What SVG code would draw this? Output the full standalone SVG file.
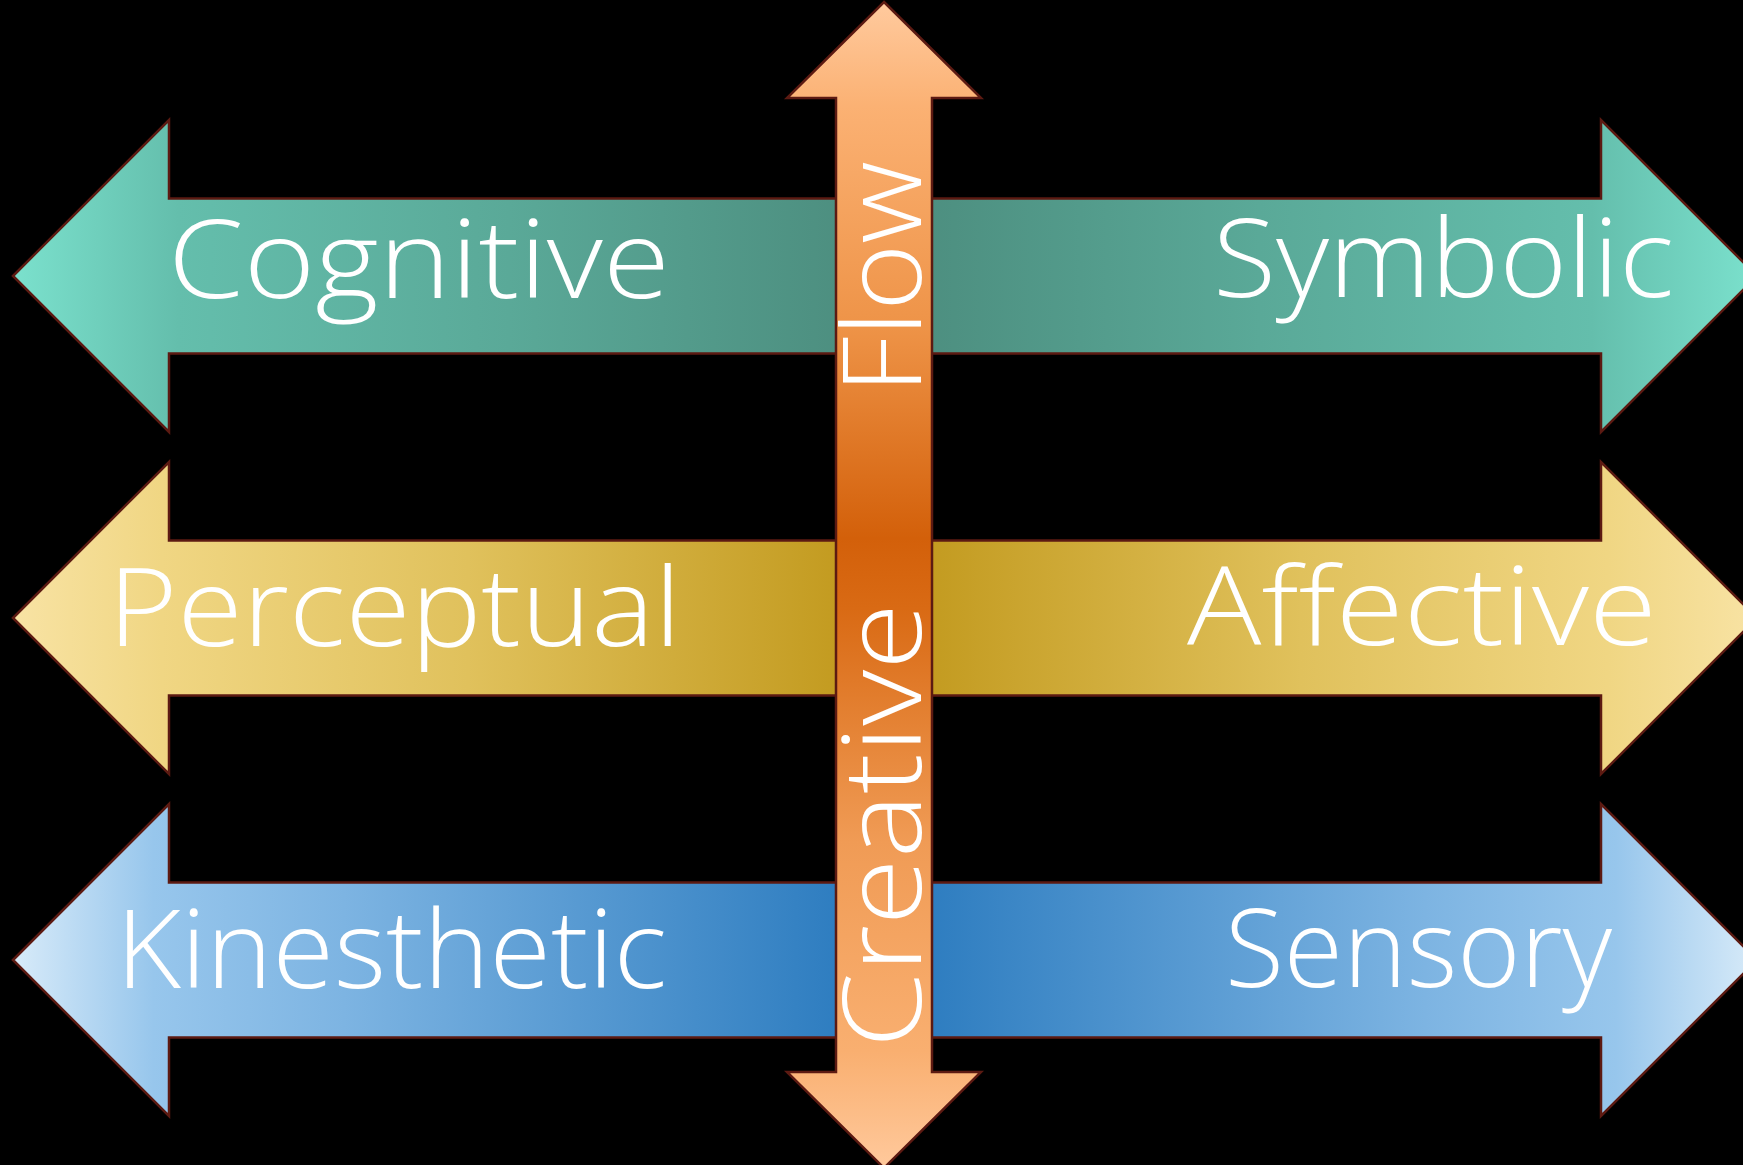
<svg xmlns="http://www.w3.org/2000/svg" width="1743" height="1165" viewBox="0 0 1743 1165">
  <defs>
    <!-- left-pointing arrows: light at the tip, deep toward the centre -->
    <linearGradient id="tealL" gradientUnits="userSpaceOnUse" x1="13" y1="0" x2="840" y2="0">
      <stop offset="0" stop-color="#7BE1CD"/>
      <stop offset="0.2" stop-color="#64BEAC"/>
      <stop offset="0.6" stop-color="#5AA998"/>
      <stop offset="1" stop-color="#4D8F80"/>
    </linearGradient>
    <linearGradient id="tealR" gradientUnits="userSpaceOnUse" x1="1757" y1="0" x2="928" y2="0">
      <stop offset="0" stop-color="#7BE1CD"/>
      <stop offset="0.2" stop-color="#64BEAC"/>
      <stop offset="0.6" stop-color="#5AA998"/>
      <stop offset="1" stop-color="#4D8F80"/>
    </linearGradient>
    <linearGradient id="goldL" gradientUnits="userSpaceOnUse" x1="13" y1="0" x2="840" y2="0">
      <stop offset="0" stop-color="#F8E3A4"/>
      <stop offset="0.18" stop-color="#F0D683"/>
      <stop offset="0.55" stop-color="#E0C15C"/>
      <stop offset="1" stop-color="#C39B20"/>
    </linearGradient>
    <linearGradient id="goldR" gradientUnits="userSpaceOnUse" x1="1757" y1="0" x2="928" y2="0">
      <stop offset="0" stop-color="#F8E3A4"/>
      <stop offset="0.18" stop-color="#F0D683"/>
      <stop offset="0.55" stop-color="#E0C15C"/>
      <stop offset="1" stop-color="#C39B20"/>
    </linearGradient>
    <linearGradient id="blueL" gradientUnits="userSpaceOnUse" x1="13" y1="0" x2="840" y2="0">
      <stop offset="0" stop-color="#D8EBF9"/>
      <stop offset="0.17" stop-color="#97C6EC"/>
      <stop offset="0.4" stop-color="#7DB4E2"/>
      <stop offset="1" stop-color="#2E7DC0"/>
    </linearGradient>
    <linearGradient id="blueR" gradientUnits="userSpaceOnUse" x1="1757" y1="0" x2="928" y2="0">
      <stop offset="0" stop-color="#D8EBF9"/>
      <stop offset="0.17" stop-color="#97C6EC"/>
      <stop offset="0.4" stop-color="#7DB4E2"/>
      <stop offset="1" stop-color="#2E7DC0"/>
    </linearGradient>
    <!-- vertical arrow: pale peach at both tips, burnt orange in the middle -->
    <linearGradient id="orange" gradientUnits="userSpaceOnUse" x1="0" y1="2" x2="0" y2="1168">
      <stop offset="0" stop-color="#FFCA9E"/>
      <stop offset="0.09" stop-color="#FBB173"/>
      <stop offset="0.28" stop-color="#EE9347"/>
      <stop offset="0.46" stop-color="#D3600A"/>
      <stop offset="0.52" stop-color="#D96A14"/>
      <stop offset="0.72" stop-color="#F09B55"/>
      <stop offset="0.9" stop-color="#F9AF70"/>
      <stop offset="1" stop-color="#FFC99C"/>
    </linearGradient>
  </defs>
  <style>
    .arrow { stroke: #5C1A12; stroke-width: 2.5; stroke-linejoin: miter; }
    .label { fill: #FFFFFF; font-family: "Open Sans", "Lato", "DejaVu Sans", sans-serif; font-weight: 300; font-size: 108px; }
  </style>

  <rect x="0" y="0" width="1743" height="1165" fill="#000000"/>

  <g id="connectors">
    <!-- row 1 -->
    <g id="cognitive">
      <polygon class="arrow" fill="url(#tealL)" points="13,276 169,120 169,198.5 860,198.5 860,353.5 169,353.5 169,432"/>
      <text class="label" x="168" y="298" textLength="502" lengthAdjust="spacingAndGlyphs">Cognitive</text>
    </g>
    <g id="symbolic">
      <polygon class="arrow" fill="url(#tealR)" points="1757,276 1601,120 1601,198.5 908,198.5 908,353.5 1601,353.5 1601,432"/>
      <text class="label" x="1213" y="297" textLength="461" lengthAdjust="spacingAndGlyphs">Symbolic</text>
    </g>
    <!-- row 2 -->
    <g id="perceptual">
      <polygon class="arrow" fill="url(#goldL)" points="13,618 169,462 169,540.5 860,540.5 860,695.5 169,695.5 169,774"/>
      <text class="label" x="108" y="646" textLength="573" lengthAdjust="spacingAndGlyphs">Perceptual</text>
    </g>
    <g id="affective">
      <polygon class="arrow" fill="url(#goldR)" points="1757,618 1601,462 1601,540.5 908,540.5 908,695.5 1601,695.5 1601,774"/>
      <text class="label" x="1187" y="645" textLength="470" lengthAdjust="spacingAndGlyphs">Affective</text>
    </g>
    <!-- row 3 -->
    <g id="kinesthetic">
      <polygon class="arrow" fill="url(#blueL)" points="13,960 169,804 169,882.5 860,882.5 860,1037.5 169,1037.5 169,1116"/>
      <text class="label" x="116" y="988" textLength="551" lengthAdjust="spacingAndGlyphs">Kinesthetic</text>
    </g>
    <g id="sensory">
      <polygon class="arrow" fill="url(#blueR)" points="1757,960 1601,804 1601,882.5 908,882.5 908,1037.5 1601,1037.5 1601,1116"/>
      <text class="label" x="1225" y="987" textLength="387" lengthAdjust="spacingAndGlyphs">Sensory</text>
    </g>
  </g>

  <!-- central double-headed arrow -->
  <g id="creative-flow">
    <polygon class="arrow" fill="url(#orange)" points="884,2 981,98 932,98 932,1072 981,1072 884,1168 787,1072 836,1072 836,98 787,98"/>
    <text class="label" transform="translate(921,1048) rotate(-90)">
      <tspan x="0" y="0" textLength="445" lengthAdjust="spacingAndGlyphs">Creative</tspan>
      <tspan x="654" y="0" textLength="233" lengthAdjust="spacingAndGlyphs">Flow</tspan>
    </text>
  </g>
</svg>
